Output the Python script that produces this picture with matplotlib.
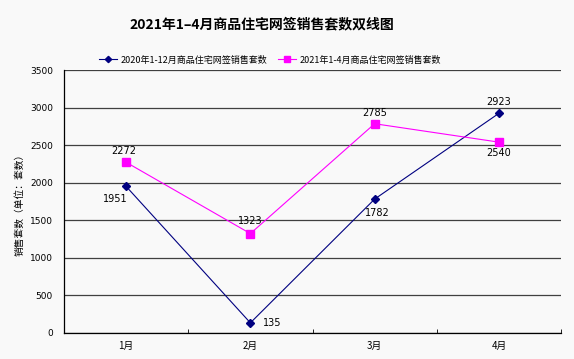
import matplotlib
matplotlib.use("Agg")
import matplotlib.pyplot as plt
from matplotlib.ticker import MultipleLocator, FixedLocator

plt.rcParams['font.family'] = ['Noto Sans CJK SC', 'DejaVu Sans']

categories = ['1月', '2月', '3月', '4月']
series_2020 = [1951, 135, 1782, 2923]
series_2021 = [2272, 1323, 2785, 2540]
name_2020 = '2020年1-12月商品住宅网签销售套数'
name_2021 = '2021年1-4月商品住宅网签销售套数'
title = '2021年1–4月商品住宅网签销售套数双线图'
ylabel = '销售套数（单位：套数）'

bg = '#F9F9F9'
fig = plt.figure(figsize=(5.74, 3.59), dpi=100, facecolor=bg)
ax = fig.add_axes([64/574, 1-333/359, (561-64)/574, (333-70)/359], facecolor=bg)

x = list(range(len(categories)))
ax.plot(x, series_2020, color='#000080', lw=0.8, marker='D', ms=4, label=name_2020, zorder=3)
ax.plot(x, series_2021, color='#FF00FF', lw=0.8, marker='s', ms=6, label=name_2021, zorder=3)

ax.set_xlim(-0.5, 3.5)
ax.set_ylim(0, 3500)
ax.yaxis.set_major_locator(MultipleLocator(500))
ax.set_xticks(x)
ax.set_xticklabels(categories, fontsize=7)
ax.xaxis.set_minor_locator(FixedLocator([0.5, 1.5, 2.5, 3.5]))
ax.tick_params(axis='x', which='major', length=0, pad=6)
ax.tick_params(axis='x', which='minor', length=3, direction='in', color='black')
ax.tick_params(axis='y', length=0, labelsize=6.5, pad=8)
for t in ax.get_yticklabels():
    t.set_fontfamily(['DejaVu Sans'])
ax.grid(axis='y', color='#404040', lw=0.9)
ax.set_axisbelow(True)
for s in ['top', 'right']:
    ax.spines[s].set_visible(False)
for s in ['left', 'bottom']:
    ax.spines[s].set_color('black')
    ax.spines[s].set_linewidth(0.9)

# data labels
offs_2020 = [(-8, -9), (16, 0), (2, -10), (0, 8)]
offs_2021 = [(-2, 8), (0, 9), (0, 8), (0, -8)]
for i, v in enumerate(series_2020):
    ax.annotate(str(v), (i, v), xytext=offs_2020[i], textcoords='offset points',
                ha='center', va='center', fontsize=7, family=['DejaVu Sans'])
for i, v in enumerate(series_2021):
    ax.annotate(str(v), (i, v), xytext=offs_2021[i], textcoords='offset points',
                ha='center', va='center', fontsize=7, family=['DejaVu Sans'])

fig.text(20/574, 1-202/359, ylabel, rotation=90, ha='center', va='center', fontsize=7)

fig.text(262/574, 1-24/359, title, ha='center', va='center', fontsize=10, fontweight='bold')
leg = fig.legend(loc='center', bbox_to_anchor=(270/574, 1-60/359), ncol=2, frameon=False,
                 fontsize=6.5, handlelength=2.0, columnspacing=1.2, handletextpad=0.4,
                 markerscale=0.8)

fig.savefig('out.png', dpi=100, facecolor=bg)
